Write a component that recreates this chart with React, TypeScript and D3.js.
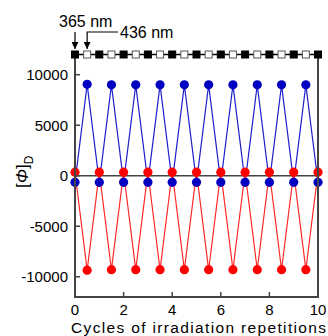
import React, { useEffect, useRef } from "react";
import * as d3 from "d3";

// irradiation steps: integers = after 365 nm, halves = after 436 nm
const cycles = [0, 0.5, 1, 1.5, 2, 2.5, 3, 3.5, 4, 4.5, 5, 5.5, 6, 6.5, 7, 7.5, 8, 8.5, 9, 9.5, 10];
const blueValues = [-650, 9050, -650, 9000, -650, 9000, -650, 9000, -650, 9000, -650, 9000, -650, 9000, -650, 9000, -650, 9000, -650, 9000, -650];
const redValues = [350, -9350, 350, -9300, 350, -9300, 350, -9300, 350, -9300, 350, -9300, 350, -9300, 350, -9300, 350, -9300, 350, -9300, 350];
const xTicks = [0, 2, 4, 6, 8, 10];
const yTicks = [-10000, -5000, 0, 5000, 10000];

const W = 328;
const H = 336;

const App = () => {
  const svgRef = useRef<SVGSVGElement>(null);

  useEffect(() => {
    const svg = d3.select(svgRef.current);
    svg.selectAll("*").remove();

    const x = d3.scaleLinear().domain([0, 10]).range([75, 318]);
    const y = d3.scaleLinear().domain([-12000, 12000]).range([297, 54.5]);
    const font = "Liberation Sans, Arial, sans-serif";
    const axisColor = "#444";

    // zero line
    svg.append("line")
      .attr("x1", x(0)).attr("x2", x(10))
      .attr("y1", y(0)).attr("y2", y(0))
      .attr("stroke", axisColor).attr("stroke-width", 1.5);

    // series lines
    const line = d3.line<number>()
      .x((d, i) => x(cycles[i]))
      .y((d) => y(d));

    svg.append("path").datum(blueValues)
      .attr("d", line).attr("fill", "none")
      .attr("stroke", "#2020cc").attr("stroke-width", 1.2);
    svg.append("path").datum(redValues)
      .attr("d", line).attr("fill", "none")
      .attr("stroke", "#ff2828").attr("stroke-width", 1.2);

    svg.append("g").selectAll("circle").data(redValues).join("circle")
      .attr("cx", (d, i) => x(cycles[i])).attr("cy", (d) => y(d))
      .attr("r", 4.6).attr("fill", "#ff0000");
    svg.append("g").selectAll("circle").data(blueValues).join("circle")
      .attr("cx", (d, i) => x(cycles[i])).attr("cy", (d) => y(d))
      .attr("r", 4.6).attr("fill", "#0000c0");

    // frame: left, bottom, right
    svg.append("path")
      .attr("d", `M${x(0)},${y(12000)}V${y(-12000)}H${x(10)}V${y(12000)}`)
      .attr("fill", "none").attr("stroke", axisColor).attr("stroke-width", 2);

    // ticks (inward)
    svg.append("g").selectAll("line").data(yTicks).join("line")
      .attr("x1", x(0)).attr("x2", x(0) + 5)
      .attr("y1", (d) => y(d)).attr("y2", (d) => y(d))
      .attr("stroke", axisColor).attr("stroke-width", 1.5);
    svg.append("g").selectAll("line").data(xTicks.slice(1, -1)).join("line")
      .attr("x1", (d) => x(d)).attr("x2", (d) => x(d))
      .attr("y1", y(-12000)).attr("y2", y(-12000) - 5)
      .attr("stroke", axisColor).attr("stroke-width", 1.5);

    // tick labels
    svg.append("g").selectAll("text").data(yTicks).join("text")
      .attr("x", 68).attr("y", (d) => y(d) + 5.5)
      .attr("text-anchor", "end").attr("font-family", font).attr("font-size", 15)
      .text((d) => d);
    svg.append("g").selectAll("text").data(xTicks).join("text")
      .attr("x", (d) => x(d)).attr("y", 315)
      .attr("text-anchor", "middle").attr("font-family", font).attr("font-size", 15)
      .text((d) => d);

    // top irradiation row
    svg.append("line")
      .attr("x1", x(0)).attr("x2", x(10))
      .attr("y1", y(12000)).attr("y2", y(12000))
      .attr("stroke", "#000").attr("stroke-width", 1.5);
    svg.append("g").selectAll("rect").data(cycles).join("rect")
      .attr("x", (d) => x(d) - 3.5).attr("y", y(12000) - 3.5)
      .attr("width", 7).attr("height", 7)
      .attr("fill", (d) => (d % 1 === 0 ? "#000" : "#fff"))
      .attr("stroke", (d) => (d % 1 === 0 ? "#000" : "#555"))
      .attr("stroke-width", 1);

    // annotations
    const defs = svg.append("defs");
    defs.append("marker").attr("id", "arr")
      .attr("viewBox", "0 0 10 10").attr("refX", 10).attr("refY", 5)
      .attr("markerWidth", 7).attr("markerHeight", 7)
      .attr("markerUnits", "userSpaceOnUse").attr("orient", "auto")
      .append("path").attr("d", "M0,0L10,5L0,10Z").attr("fill", "#000");

    svg.append("line")
      .attr("x1", x(0)).attr("x2", x(0)).attr("y1", 32).attr("y2", 49)
      .attr("stroke", "#000").attr("stroke-width", 1.2).attr("marker-end", "url(#arr)");
    svg.append("path")
      .attr("d", `M118,32H${x(0.5)}V49`)
      .attr("fill", "none").attr("stroke", "#000").attr("stroke-width", 1.2)
      .attr("marker-end", "url(#arr)");
    svg.append("text").attr("x", 59).attr("y", 27)
      .attr("font-family", font).attr("font-size", 16).text("365 nm");
    svg.append("text").attr("x", 120).attr("y", 37.5)
      .attr("font-family", font).attr("font-size", 16).text("436 nm");

    // axis titles
    svg.append("text").attr("x", 71).attr("y", 332.5)
      .attr("font-family", font).attr("font-size", 15.5)
      .attr("textLength", 255).attr("lengthAdjust", "spacing")
      .text("Cycles of irradiation repetitions");

    const yl = svg.append("text")
      .attr("transform", `translate(27.5,188) rotate(-90)`)
      .attr("font-family", font).attr("font-size", 17);
    yl.append("tspan").text("[");
    yl.append("tspan").attr("font-style", "italic").text("\u03A6");
    yl.append("tspan").text("]");
    yl.append("tspan").attr("dy", 5).attr("font-size", 12).text("D");
  }, []);

  return (
    <svg
      ref={svgRef}
      width={W}
      height={H}
      style={{ position: "absolute", left: 0, top: 0, background: "#fff" }}
    />
  );
};

export default App;
